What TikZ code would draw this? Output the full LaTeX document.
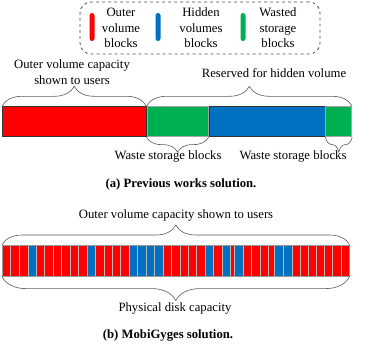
\documentclass[tikz,border=0pt]{standalone}
\usepackage{fontspec}
\setmainfont{Liberation Serif}
\usepackage{xcolor}
\usetikzlibrary{positioning, decorations.pathreplacing, calc}

\definecolor{volred}{HTML}{FF0000}
\definecolor{volblue}{HTML}{0070C0}
\definecolor{wastegreen}{HTML}{00B050}

\begin{document}
\begin{tikzpicture}[
  x=1pt, y=-1pt,
  font=\fontsize{12.7}{15.5}\selectfont,
  seg/.style      = {draw=black!80, line width=0.8pt, fill=#1, inner sep=0pt,
                     minimum height=30pt, anchor=west},
  block/.style    = {fill=#1, draw=gray!55, line width=0.4pt},
  curly/.style    = {decorate, decoration={brace, amplitude=#1},
                     draw=gray!70!black, line width=0.6pt},
  pill/.style     = {fill=#1, inner sep=0pt, minimum width=5pt,
                     minimum height=28pt, rounded corners=2.5pt},
  legendbox/.style= {draw=black!70, dashed, line width=0.8pt,
                     rounded corners=11pt, minimum width=240pt,
                     minimum height=52pt},
  caption/.style  = {font=\fontsize{12.7}{15.5}\selectfont\bfseries}
]
\useasboundingbox (0,0) rectangle (374,346);

% ── Legend ────────────────────────────────────────────────────────────────────
\node[legendbox] (legend) at (200,28) {};
\node[pill=volred]     (keyouter)  at (92,27)  {};
\node[pill=volblue]    (keyhidden) at (158,27) {};
\node[pill=wastegreen] (keywaste)  at (243,27) {};
\node[align=center] (outerkey)  at (121,28) {Outer\\volume\\blocks};
\node[align=center] (hiddenkey) at (201,28) {Hidden\\volumes\\blocks};
\node[align=center] (wastekey)  at (278,28) {Wasted\\storage\\blocks};

% ── (a) Previous works ────────────────────────────────────────────────────────
\node[seg=volred,     minimum width=143.7pt] (outer)  at (2,121.7)     {};
\node[seg=wastegreen, minimum width=61.3pt, draw=gray!70] (waste1) at (outer.east)  {};
\node[seg=volblue,    minimum width=116pt]   (hidden) at (waste1.east) {};
\node[seg=wastegreen, minimum width=26pt, draw=gray!70]   (waste2) at (hidden.east) {};

\draw[curly=20pt] (outer.north west)  -- (outer.north east);
\draw[curly=20pt] (waste1.north west) -- (waste2.north east);
\draw[curly=15pt] (waste1.south east) -- (waste1.south west);
\draw[curly=15pt] (waste2.south east) -- (waste2.south west);

\node[align=center] (outerlbl)    at (72,72)  {Outer volume capacity\\shown to users};
\node               (reservedlbl) at (274,73) {Reserved for hidden volume};
\node               (waste1lbl)   at (168,156) {Waste storage blocks};
\node               (waste2lbl)   at (293,156) {Waste storage blocks};
\node[caption]      (capa)        at (181,184) {(a) Previous works solution.};

% ── (b) MobiGyges ─────────────────────────────────────────────────────────────
\foreach \a/\b/\n/\c in {2/27.7/3/volred, 27.7/36/1/volblue, 36/87/6/volred,
    87/95.3/1/volblue, 95.3/129/4/volred, 129/163/4/volblue, 163/205/5/volred,
    205/213.3/1/volblue, 213.3/221.7/1/volred, 221.7/230/1/volblue,
    230/234.3/1/volred, 234.3/243.3/1/volblue, 243.3/268.3/3/volred,
    268.3/274.3/1/volred, 274.3/291.7/2/volblue, 291.7/349/7/volred}
  \foreach \k in {1,...,\n}
    \draw[block=\c] ({\a+(\b-\a)*(\k-1)/\n},245) rectangle ({\a+(\b-\a)*\k/\n},276);

\node[draw=gray!80, line width=0.6pt, inner sep=0pt, minimum width=347pt,
      minimum height=31pt, anchor=north west] (disk) at (2,245) {};

\draw[curly=20pt] (disk.north west) -- (disk.north east);
\draw[curly=24pt] (disk.south east) -- (disk.south west);

\node          (shownlbl) at (176,215) {Outer volume capacity shown to users};
\node          (physlbl)  at (175,308) {Physical disk capacity};
\node[caption] (capb)     at (168,335) {(b) MobiGyges solution.};

\end{tikzpicture}
\end{document}
